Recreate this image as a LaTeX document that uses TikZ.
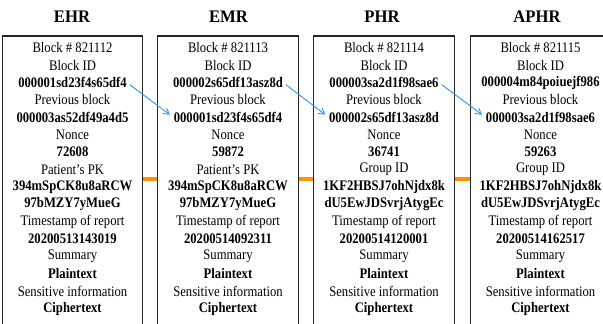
\documentclass[tikz,border=0pt]{standalone}
\usepackage{fontspec}
\setmainfont{Liberation Serif}
\usetikzlibrary{arrows.meta}
\definecolor{linkorange}{RGB}{255,145,0}
\definecolor{ptrblue}{RGB}{51,150,245}
\newcommand\tallrow[1]{\scalebox{1}[1.15]{#1}}
\tikzset{
  row/.style={font=\fontsize{9.5}{11}\selectfont, inner sep=0pt, anchor=center},
  title/.style={font=\fontsize{12.5}{14}\selectfont\bfseries, inner sep=0pt},
  blockbox/.style={draw=black!85, line width=0.8pt, minimum width=105.5pt,
    minimum height=243pt, inner sep=0pt},
  link/.style={draw=linkorange, line width=2.4pt},
  ptr/.style={draw=ptrblue, line width=0.7pt, -{Straight Barb[length=4pt,width=5pt]},
    shorten <=2.5pt, shorten >=3.5pt},
}
\begin{document}
\begin{tikzpicture}[x=0.75pt,y=-0.75pt]
\useasboundingbox (0,0) rectangle (603,324);
\begin{scope}
\clip (0,0) rectangle (603,324);
% blocks of the chain, open at the bottom edge
\node[blockbox] (b1) at (72.5,198) {};
\node[blockbox] (b2) at (228,198) {};
\node[blockbox] (b3) at (384,198) {};
\node[blockbox] (b4) at (540.5,198) {};
\end{scope}

% headers
\node[title] (t1) at (72,16.5) {\scalebox{1}[1.06]{EHR}};
\node[title] (t2) at (228.5,16.5) {\scalebox{1}[1.06]{EMR}};
\node[title] (t3) at (382,16.5) {\scalebox{1}[1.06]{PHR}};
\node[title] (t4) at (537,16.5) {\scalebox{1}[1.06]{APHR}};

% block contents
\foreach \t [count=\j] in {Block \# 821112, Block ID, \textbf{000001sd23f4s65df4},
  Previous block, \textbf{000003as52df49a4d5}, Nonce, \textbf{72608},
  Patient’s PK, \textbf{394mSpCK8u8aRCW}, \textbf{97bMZY7yMueG},
  Timestamp of report, \textbf{20200513143019}, Summary, \textbf{Plaintext},
  Sensitive information, \textbf{Ciphertext}}
  \node[row] (b1-\j) at (72.5,{47.8+(\j-1)*17.4}) {\tallrow{\t}};

\foreach \t [count=\j] in {Block \# 821113, Block ID, \textbf{000002s65df13asz8d},
  Previous block, \textbf{000001sd23f4s65df4}, Nonce, \textbf{59872},
  Patient’s PK, \textbf{394mSpCK8u8aRCW}, \textbf{97bMZY7yMueG},
  Timestamp of report, \textbf{20200514092311}, Summary, \textbf{Plaintext},
  Sensitive information, \textbf{Ciphertext}}
  \node[row] (b2-\j) at (228,{47.8+(\j-1)*17.4}) {\tallrow{\t}};

\foreach \t [count=\j] in {Block \# 821114, Block ID, \textbf{000003sa2d1f98sae6},
  Previous block, \textbf{000002s65df13asz8d}, Nonce, \textbf{36741},
  Group ID, \textbf{1KF2HBSJ7ohNjdx8k}, \textbf{dU5EwJDSvrjAtygEc},
  Timestamp of report, \textbf{20200514120001}, Summary, \textbf{Plaintext},
  Sensitive information, \textbf{Ciphertext}}
  \node[row] (b3-\j) at (384,{47.8+(\j-1)*17.4}) {\tallrow{\t}};

\foreach \t [count=\j] in {Block \# 821115, Block ID, \textbf{000004m84poiuejf986},
  Previous block, \textbf{000003sa2d1f98sae6}, Nonce, \textbf{59263},
  Group ID, \textbf{1KF2HBSJ7ohNjdx8k}, \textbf{dU5EwJDSvrjAtygEc},
  Timestamp of report, \textbf{20200514162517}, Summary, \textbf{Plaintext},
  Sensitive information, \textbf{Ciphertext}}
  \node[row] (b4-\j) at (540.5,{47.8+(\j-1)*17.4}) {\tallrow{\t}};

% chain links between neighbouring blocks
\draw[link] ([yshift=14.25pt]b1.east) -- ([yshift=14.25pt]b2.west);
\draw[link] ([yshift=14.25pt]b2.east) -- ([yshift=14.25pt]b3.west);
\draw[link] ([yshift=14.25pt]b3.east) -- ([yshift=14.25pt]b4.west);

% block ID referenced as previous block by the next one
\draw[ptr] (b1-3.east) -- (b2-5.west);
\draw[ptr] (b2-3.east) -- (b3-5.west);
\draw[ptr] (b3-3.east) -- (b4-5.west);
\end{tikzpicture}
\end{document}
